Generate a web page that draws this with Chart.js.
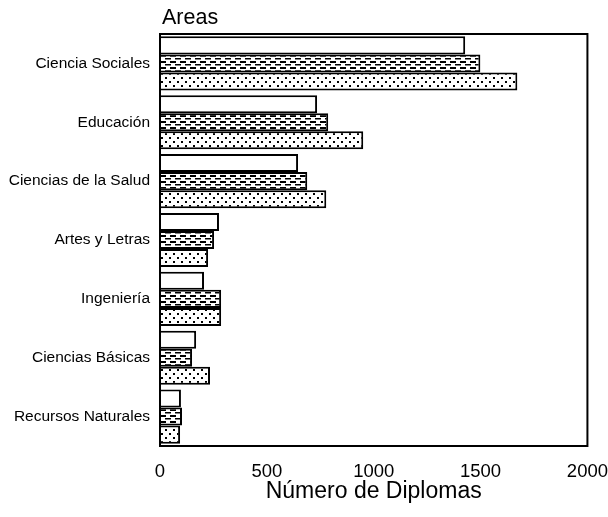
<!DOCTYPE html>
<html>
<head>
<meta charset="utf-8">
<title>Areas</title>
<script src="https://cdn.jsdelivr.net/npm/chart.js"></script>
<style>
  body { margin: 0; background: #ffffff; }
  .chart-container { position: relative; width: 608px; height: 517px; }
</style>
</head>
<body>
<div class="chart-container">
  <canvas id="chart"></canvas>
</div>
<script>
const areas = ['Ciencia Sociales', 'Educación', 'Ciencias de la Salud', 'Artes y Letras', 'Ingeniería', 'Ciencias Básicas', 'Recursos Naturales'];
const serieBlanca = [1428, 735, 646, 276, 206, 169, 98];
const serieRayada = [1499, 787, 689, 253, 286, 150, 103];
const seriePunteada = [1672, 951, 778, 225, 286, 234, 94];
const xTicks = [0, 500, 1000, 1500, 2000];

// small tiles for the fill patterns
function makePattern(w, h, draw) {
  const c = document.createElement('canvas');
  c.width = w;
  c.height = h;
  const g = c.getContext('2d');
  g.fillStyle = '#ffffff';
  g.fillRect(0, 0, w, h);
  g.fillStyle = '#000000';
  draw(g);
  return c.getContext('2d').createPattern(c, 'repeat');
}

const dashed = makePattern(10, 6, g => {
  g.fillRect(0, 1, 6, 2);
  g.fillRect(5, 4, 6, 1.5);
  g.fillRect(-5, 4, 6, 1.5);
});

const dotted = makePattern(8, 8, g => {
  g.fillRect(1, 1, 2, 2);
  g.fillRect(5, 5, 2, 2);
});

const boxAndTitle = {
  id: 'boxAndTitle',
  afterDraw(chart) {
    const { ctx, chartArea } = chart;
    ctx.save();
    ctx.strokeStyle = '#000';
    ctx.lineWidth = 2;
    ctx.strokeRect(chartArea.left, chartArea.top, chartArea.right - chartArea.left, chartArea.bottom - chartArea.top);
    ctx.fillStyle = '#000';
    ctx.font = '21.5px "Liberation Sans", Arial, sans-serif';
    ctx.textAlign = 'left';
    ctx.textBaseline = 'alphabetic';
    ctx.fillText('Areas', chartArea.left + 2, chartArea.top - 10);
    ctx.restore();
  }
};

Chart.defaults.font.family = '"Liberation Sans", Arial, sans-serif';
Chart.defaults.color = '#000';

const ctx = document.getElementById('chart').getContext('2d');
new Chart(ctx, {
  type: 'bar',
  data: {
    labels: areas,
    datasets: [
      { label: 'Serie 1', data: serieBlanca, backgroundColor: '#ffffff', borderColor: '#000', borderWidth: 2 },
      { label: 'Serie 2', data: serieRayada, backgroundColor: dashed, borderColor: '#000', borderWidth: 2 },
      { label: 'Serie 3', data: seriePunteada, backgroundColor: dotted, borderColor: '#000', borderWidth: 2 }
    ]
  },
  options: {
    indexAxis: 'y',
    responsive: true,
    maintainAspectRatio: false,
    animation: false,
    layout: { padding: { top: 34, right: 0, left: 0, bottom: 0 } },
    datasets: { bar: { categoryPercentage: 0.92, barPercentage: 1.0 } },
    plugins: {
      legend: { display: false },
      title: { display: false },
      tooltip: { enabled: false }
    },
    scales: {
      x: {
        min: 0,
        max: 2000,
        afterBuildTicks: scale => { scale.ticks = xTicks.map(v => ({ value: v })); },
        afterFit: scale => { scale.height = 71; },
        grid: { display: false, drawTicks: true, tickLength: 15 },
        border: { display: false },
        ticks: { font: { size: 18.5 }, padding: 0, maxRotation: 0, callback: v => String(v) },
        title: { display: true, text: 'Número de Diplomas', font: { size: 23 }, padding: { top: 4, bottom: 12 } }
      },
      y: {
        afterFit: scale => { scale.width = 160; },
        grid: { display: false, drawTicks: false },
        border: { display: false },
        ticks: { font: { size: 15.5 }, padding: 10 }
      }
    }
  },
  plugins: [boxAndTitle]
});
</script>
</body>
</html>
